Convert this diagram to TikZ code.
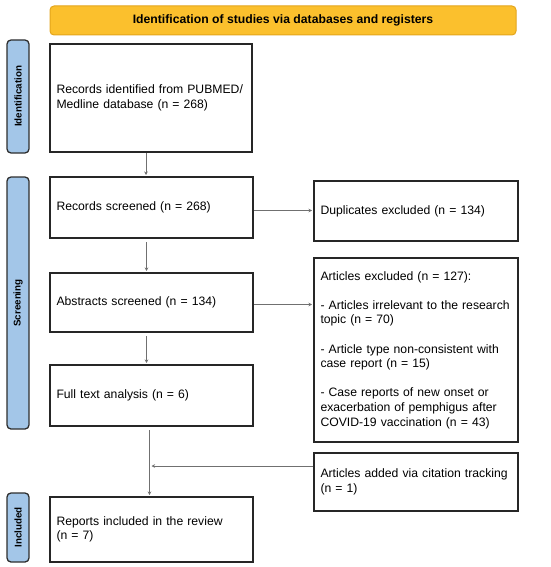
\documentclass[tikz,border=0pt]{standalone}
\usepackage{fontspec}
\setmainfont{Liberation Sans}
\usetikzlibrary{arrows.meta}
\definecolor{bannerfill}{HTML}{FBC02D}
\definecolor{bannerdraw}{HTML}{E3A51C}
\definecolor{sidefill}{HTML}{A3C6E8}
\definecolor{sidedraw}{HTML}{2E2E2E}
\definecolor{arrowgray}{HTML}{707070}
\definecolor{boxdraw}{HTML}{262626}
\begin{document}
\begin{tikzpicture}[x=1pt,y=-1pt,
  box/.style={draw=boxdraw, line width=1.1pt, rectangle, anchor=north west,
    outer sep=0pt, inner xsep=6pt, inner ysep=0pt, align=left,
    font=\fontsize{12.2}{14.6}\selectfont},
  banner/.style={draw=bannerdraw, fill=bannerfill, line width=1pt, rounded corners=4pt,
    anchor=north west, outer sep=0pt, inner sep=0pt, minimum width=466pt, minimum height=29pt,
    font=\fontsize{12.2}{14.6}\selectfont\bfseries},
  side/.style={draw=sidedraw, fill=sidefill, line width=1.3pt, rounded corners=4pt,
    rotate=90, outer sep=0pt, inner sep=0pt, minimum height=22pt,
    font=\fontsize{9.8}{11}\selectfont\bfseries},
  arr/.style={draw=arrowgray, line width=0.8pt, -{Stealth[length=3.5pt,width=3.5pt]},
    shorten <=1pt, shorten >=2pt}
]
\useasboundingbox (0,0) rectangle (550,567);

% banner
\node[banner] (ban) at (50,6) {Identification of studies via databases and registers};

% side labels
\node[side, minimum width=113pt] (s1) at (18,96.5) {Identification};
\node[side, minimum width=252pt] (s2) at (18,303) {Screening};
\node[side, minimum width=69pt] (s3) at (18,527.5) {Included};

% main column
\node[box, minimum width=202pt, minimum height=108pt, text width=189pt] (b1) at (50,44)
  {Records identified from PUBMED/\\Medline database (n = 268)};
\node[box, minimum width=203pt, minimum height=61pt, text width=190pt] (b2) at (50,177)
  {Records screened (n = 268)};
\node[box, minimum width=203pt, minimum height=59pt, text width=190pt] (b3) at (50,273)
  {Abstracts screened (n = 134)};
\node[box, minimum width=203pt, minimum height=61pt, text width=190pt] (b4) at (50,365)
  {Full text analysis (n = 6)};
\node[box, minimum width=203pt, minimum height=65pt, text width=190pt] (b5) at (50,497)
  {Reports included in the review\\(n = 7)};

% right column
\node[box, minimum width=204pt, minimum height=60pt, text width=191pt] (dup) at (314,181)
  {Duplicates excluded (n = 134)};
\node[box, minimum width=204pt, minimum height=184pt, text width=191pt] (exc) at (314,258)
  {Articles excluded (n = 127):\\[14.6pt]
   - Articles irrelevant to the research\\topic (n = 70)\\[14.6pt]
   - Article type non-consistent with\\case report (n = 15)\\[14.6pt]
   - Case reports of new onset or\\exacerbation of pemphigus after\\COVID-19 vaccination (n = 43)};
\node[box, minimum width=204pt, minimum height=58pt, text width=191pt] (cit) at (314,453)
  {Articles added via citation tracking\\(n = 1)};

% connectors
\draw[arr] ([xshift=-5pt]b1.south) -- ([xshift=-5pt]b1.south |- b2.north);
\draw[arr, shorten <=4pt] ([xshift=-5pt]b2.south) -- ([xshift=-5pt]b2.south |- b3.north);
\draw[arr, shorten <=4pt] ([xshift=-5pt]b3.south) -- ([xshift=-5pt]b3.south |- b4.north);
\draw[arr, shorten <=4pt] ([xshift=-2pt]b4.south) -- ([xshift=-2pt]b4.south |- b5.north);
\coordinate (vl) at ([xshift=-2pt]b4.south);
\draw[arr] ([yshift=-3pt]b2.east) -- ([yshift=-3pt]b2.east -| dup.west);
\draw[arr] ([yshift=-2pt]b3.east) -- ([yshift=-2pt]b3.east -| exc.west);
\draw[arr] ([yshift=16pt]cit.west) -- ([yshift=16pt]cit.west -| vl);
\end{tikzpicture}
\end{document}
